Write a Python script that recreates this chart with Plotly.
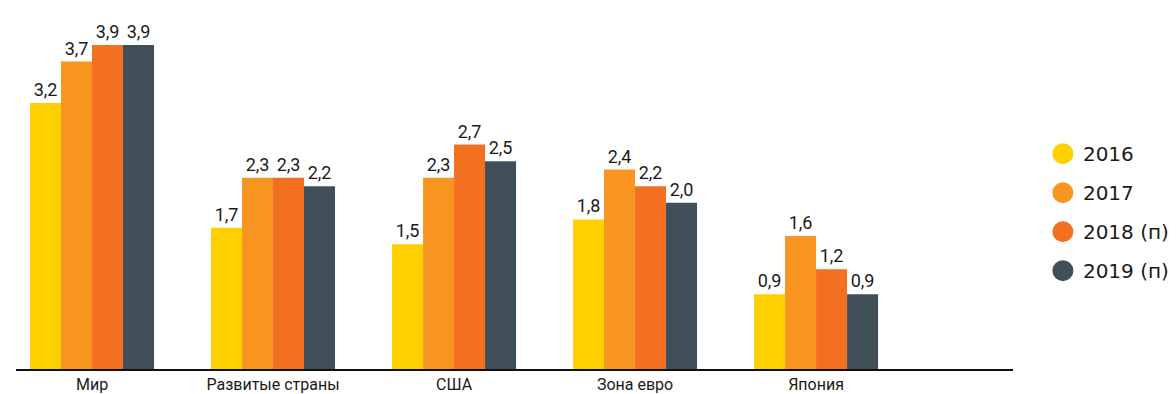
import plotly.graph_objects as go

categories = ["Мир", "Развитые страны", "США", "Зона евро", "Япония"]
series_names = ["2016", "2017", "2018 (п)", "2019 (п)"]
v2016 = [3.2, 1.7, 1.5, 1.8, 0.9]
v2017 = [3.7, 2.3, 2.3, 2.4, 1.6]
v2018 = [3.9, 2.3, 2.7, 2.2, 1.2]
v2019 = [3.9, 2.2, 2.5, 2.0, 0.9]
colors = ["#FFD000", "#F89521", "#F37021", "#414F58"]

values = [v2016, v2017, v2018, v2019]
FONT = "Roboto"

fig = go.Figure()
for name, vals, col in zip(series_names, values, colors):
    fig.add_trace(go.Bar(
        x=categories, y=vals, name=name, marker=dict(color=col, line=dict(width=0)),
        text=[f"{v:.1f}".replace(".", ",") for v in vals],
        textposition="outside", cliponaxis=False,
        textfont=dict(family=FONT, size=18, color="#1a1a1a"),
        showlegend=False,
    ))
# legend entries with circular symbols
for i, (name, col) in enumerate(zip(series_names, colors)):
    fig.add_trace(go.Scatter(
        x=[None], y=[None], mode="markers", name=name, legendgroup=name,
        marker=dict(symbol="circle", size=22, color=col, line=dict(color=col, width=5)),
        showlegend=True,
    ))

fig.update_layout(
    width=1176, height=394,
    margin=dict(l=16, r=163, t=0, b=25),
    paper_bgcolor="white", plot_bgcolor="white",
    barmode="group", bargap=0.315, bargroupgap=0,
    font=dict(family=FONT, color="#1a1a1a"),
    legend=dict(
        x=1.03, xanchor="left", y=0.425, yanchor="middle",
        font=dict(family="DejaVu Sans", size=20, color="#1a1a1a"),
        tracegroupgap=10, itemsizing="trace",
        bgcolor="rgba(0,0,0,0)",
    ),
    xaxis=dict(
        range=[-0.42, 5.088], showline=True, linecolor="#111111", linewidth=2,
        showgrid=False, zeroline=False, ticks="", automargin=False,
        tickfont=dict(family=FONT, size=16, color="#1a1a1a"),
        ticklabelstandoff=0,
    ),
    yaxis=dict(range=[0, 4.44], visible=False, showgrid=False, zeroline=False,
               automargin=False),
)

fig.write_html("out.html")
